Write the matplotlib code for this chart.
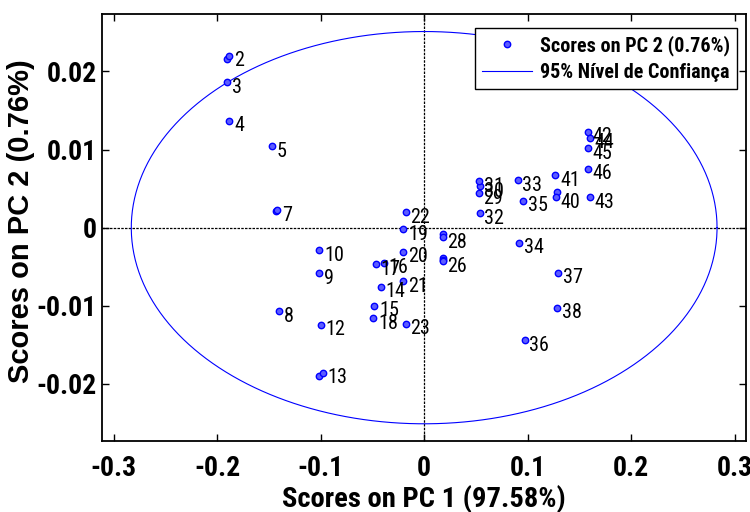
import numpy as np
import matplotlib
matplotlib.use("Agg")
import matplotlib.pyplot as plt

# PCA scores, samples 1..46
pc1 = [-0.1907, -0.1882, -0.1907, -0.1882, -0.1470, -0.1434, -0.1422, -0.1403,
       -0.1014, -0.1014, -0.1014, -0.0997, -0.0978, -0.0421, -0.0483, -0.0392,
       -0.0469, -0.0492, -0.0203, -0.0203, -0.0203, -0.0180, -0.0180, 0.0178,
       0.0183, 0.0178, 0.0178, 0.0178, 0.0528, 0.0537, 0.0528, 0.0537,
       0.0902, 0.0917, 0.0956, 0.0972, 0.1297, 0.1284, 0.1284, 0.1271,
       0.1268, 0.1583, 0.1599, 0.1599, 0.1583, 0.1583]
pc2 = [0.02157, 0.02196, 0.01859, 0.01367, 0.01040, 0.00211, 0.00224, -0.01069,
       -0.00586, -0.00288, -0.01898, -0.01245, -0.01859, -0.00758, -0.01001, -0.00446,
       -0.00467, -0.01159, -0.00023, -0.00310, -0.00685, 0.00198, -0.01227, -0.00394,
       -0.00416, -0.00429, -0.00087, -0.00122, 0.00438, 0.00531, 0.00595, 0.00182,
       0.00608, -0.00190, 0.00343, -0.01444, -0.00574, -0.01022, 0.00458, 0.00387,
       0.00672, 0.01227, 0.00387, 0.01150, 0.01018, 0.00753]
# samples sitting on top of another one are left without a tag
point_labels = ['', '2', '3', '4', '5', '', '7', '8', '9', '10', '', '12', '13',
                '14', '15', '16', '17', '18', '19', '20', '21', '22', '23', '', '',
                '26', '', '28', '29', '30', '31', '32', '33', '34', '35', '36', '37',
                '38', '', '40', '41', '42', '43', '44', '45', '46']

# 95% confidence ellipse semi-axes
ellipse_a = 0.283
ellipse_b = 0.0251

xticks = [-0.3, -0.2, -0.1, 0, 0.1, 0.2, 0.3]
xticklabels = ['-0.3', '-0.2', '-0.1', '0', '0.1', '0.2', '0.3']
yticks = [-0.02, -0.01, 0, 0.01, 0.02]
yticklabels = ['-0.02', '-0.01', '0', '0.01', '0.02']

narrow = ['Roboto Condensed', 'Liberation Sans', 'DejaVu Sans']
wide = ['Liberation Sans', 'DejaVu Sans']

fig = plt.figure(figsize=(7.5, 5.12), dpi=100)
ax = fig.add_axes([0.1364, 0.1387, 0.8583, 0.8333])

ax.axhline(0, color='black', lw=0.9, ls=(0, (2, 1)), zorder=1)
ax.axvline(0, color='black', lw=0.9, ls=(0, (2, 1)), zorder=1)

ax.plot(pc1, pc2, 'o', ms=4.6, mfc='#5c5cff', mec='#0000ff', mew=1.0,
        label='Scores on PC 2 (0.76%)', zorder=3)

t = np.linspace(0, 2 * np.pi, 400)
ax.plot(ellipse_a * np.cos(t), ellipse_b * np.sin(t), color='#0000ff', lw=0.8,
        label='95% Nível de Confiança', zorder=2)

for x, y, s in zip(pc1, pc2, point_labels):
    if s:
        ax.annotate(s, (x, y), xytext=(3.4, -7.5), textcoords='offset points',
                    ha='left', va='baseline', fontsize=14.5, family=narrow,
                    color='black', zorder=4)

ax.set_xlim(-0.311, 0.311)
ax.set_ylim(-0.0273, 0.0273)
ax.set_xticks(xticks)
ax.set_xticklabels(xticklabels, family=narrow, fontweight='bold', fontsize=20)
ax.set_yticks(yticks)
ax.set_yticklabels(yticklabels, family=narrow, fontweight='bold', fontsize=20)
ax.tick_params(direction='in', length=5, width=1, top=True, right=True)
ax.tick_params(axis='x', pad=10)
ax.tick_params(axis='y', pad=4)
for sp in ax.spines.values():
    sp.set_linewidth(1.3)

ax.set_xlabel('Scores on PC 1 (97.58%)', family=narrow, fontweight='bold',
              fontsize=20.5, labelpad=2)
ax.set_ylabel('Scores on PC 2 (0.76%)', family=wide, fontweight='bold',
              fontsize=21)
ax.yaxis.set_label_coords(-0.105, 0.515)

leg = ax.legend(loc='upper right', bbox_to_anchor=(0.986, 0.968),
                borderaxespad=0, fancybox=False, framealpha=1,
                edgecolor='black', handlelength=2.5, handletextpad=0.4,
                borderpad=0.35, labelspacing=0.35,
                prop={'family': narrow, 'weight': 'bold', 'size': 14.5})
leg.get_frame().set_linewidth(1.0)

fig.savefig('out.png', dpi=100)
